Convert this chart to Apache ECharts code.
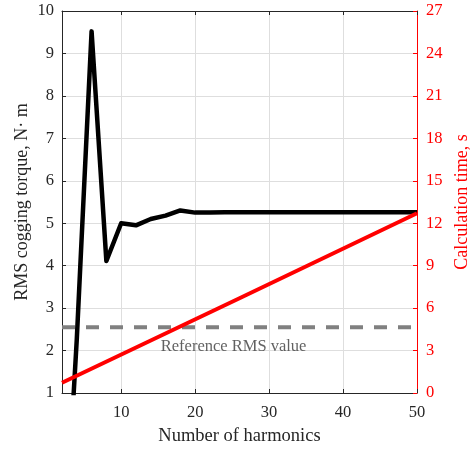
<!DOCTYPE html>
<html><head><meta charset="utf-8">
<script src="https://cdn.jsdelivr.net/npm/echarts@6/dist/echarts.min.js"></script>
<style>html,body{margin:0;padding:0;background:#fff}#c{width:472px;height:449px}</style>
</head><body><div id="c"></div>
<script>
const xTicks = [10, 20, 30, 40, 50];
const torqueHarmonics = [2, 4, 6, 8, 10, 12, 14, 16, 18, 20, 22, 24, 26, 28, 30, 32, 34, 36, 38, 40, 42, 44, 46, 48, 50];
const torqueValues = [-3.8, 2.27, 9.52, 4.11, 5.0, 4.95, 5.1, 5.18, 5.3, 5.25, 5.25, 5.26, 5.26, 5.26, 5.26, 5.26, 5.26, 5.26, 5.26, 5.26, 5.26, 5.26, 5.26, 5.26, 5.26];
const timeHarmonics = [2, 26, 50];
const timeValues = [0.72, 6.7, 12.7];
const refHarmonics = [2, 50];
const refValues = [2.55, 2.55];
const refLabel = 'Reference RMS value';
const refLabelAt = [25.2, 2.08];

const font = "'Liberation Serif','Times New Roman',serif";
const chart = echarts.init(document.getElementById('c'), null, {renderer: 'canvas'});
chart.setOption({
  animation: false,
  grid: {left: 62, right: 55, top: 11, bottom: 56, outerBoundsMode: 'none', containLabel: false},
  xAxis: [{
    type: 'value', min: 2, max: 50,
    name: 'Number of harmonics', nameLocation: 'middle', nameGap: 34, nameMoveOverlap: false,
    nameTextStyle: {fontFamily: font, fontSize: 18.5, color: '#262626'},
    axisLine: {show: true, lineStyle: {color: '#262626', width: 1}},
    axisTick: {show: true, inside: true, length: 4, customValues: xTicks, lineStyle: {color: '#262626'}},
    axisLabel: {customValues: xTicks, fontFamily: font, fontSize: 16.5, color: '#262626', margin: 11},
    splitLine: {show: true, customValues: xTicks, lineStyle: {color: '#dedede', width: 1}}
  }, {
    type: 'value', min: 2, max: 50, position: 'top',
    axisLine: {show: true, lineStyle: {color: '#262626', width: 1}},
    axisTick: {show: true, inside: true, length: 4, customValues: xTicks, lineStyle: {color: '#262626'}},
    axisLabel: {show: false},
    splitLine: {show: false}
  }],
  yAxis: [{
    type: 'value', min: 1, max: 10, interval: 1,
    name: 'RMS cogging torque, N\u00b7 m', nameLocation: 'middle', nameGap: 31, nameRotate: 90, nameMoveOverlap: false,
    nameTextStyle: {fontFamily: font, fontSize: 18, color: '#262626'},
    axisLine: {show: true, lineStyle: {color: '#262626', width: 1}},
    axisTick: {show: true, inside: true, length: 4, lineStyle: {color: '#262626'}},
    axisLabel: {fontFamily: font, fontSize: 16.5, color: '#262626', margin: 8},
    splitLine: {show: true, lineStyle: {color: '#dedede', width: 1}}
  }, {
    type: 'value', min: 0, max: 27, interval: 3, position: 'right',
    name: 'Calculation time, s', nameLocation: 'middle', nameGap: 36, nameRotate: 90, nameMoveOverlap: false,
    nameTextStyle: {fontFamily: font, fontSize: 18, color: '#ff0000'},
    axisLine: {show: true, lineStyle: {color: '#ff0000', width: 1}},
    axisTick: {show: true, inside: true, length: 4, lineStyle: {color: '#ff0000'}},
    axisLabel: {fontFamily: font, fontSize: 16.5, color: '#ff0000', margin: 9},
    splitLine: {show: false}
  }],
  series: [{
    type: 'line', yAxisIndex: 0, symbol: 'none', clip: true, z: 4,
    data: torqueHarmonics.map((h, i) => [h, torqueValues[i]]),
    lineStyle: {color: '#000', width: 4.5, join: 'round'}
  }, {
    type: 'line', yAxisIndex: 1, symbol: 'none', clip: true, z: 5,
    data: timeHarmonics.map((h, i) => [h, timeValues[i]]),
    lineStyle: {color: '#ff0000', width: 4}
  }, {
    type: 'line', yAxisIndex: 0, symbol: 'none', z: 3,
    data: refHarmonics.map((h, i) => [h, refValues[i]]),
    lineStyle: {color: '#808080', width: 4, type: [13, 11]}
  }, {
    type: 'scatter', yAxisIndex: 0, symbolSize: 0, z: 6,
    data: [refLabelAt],
    label: {show: true, position: 'inside', formatter: refLabel, fontFamily: font, fontSize: 16.5, color: '#3a3a3a'}
  }]
});
</script></body></html>
